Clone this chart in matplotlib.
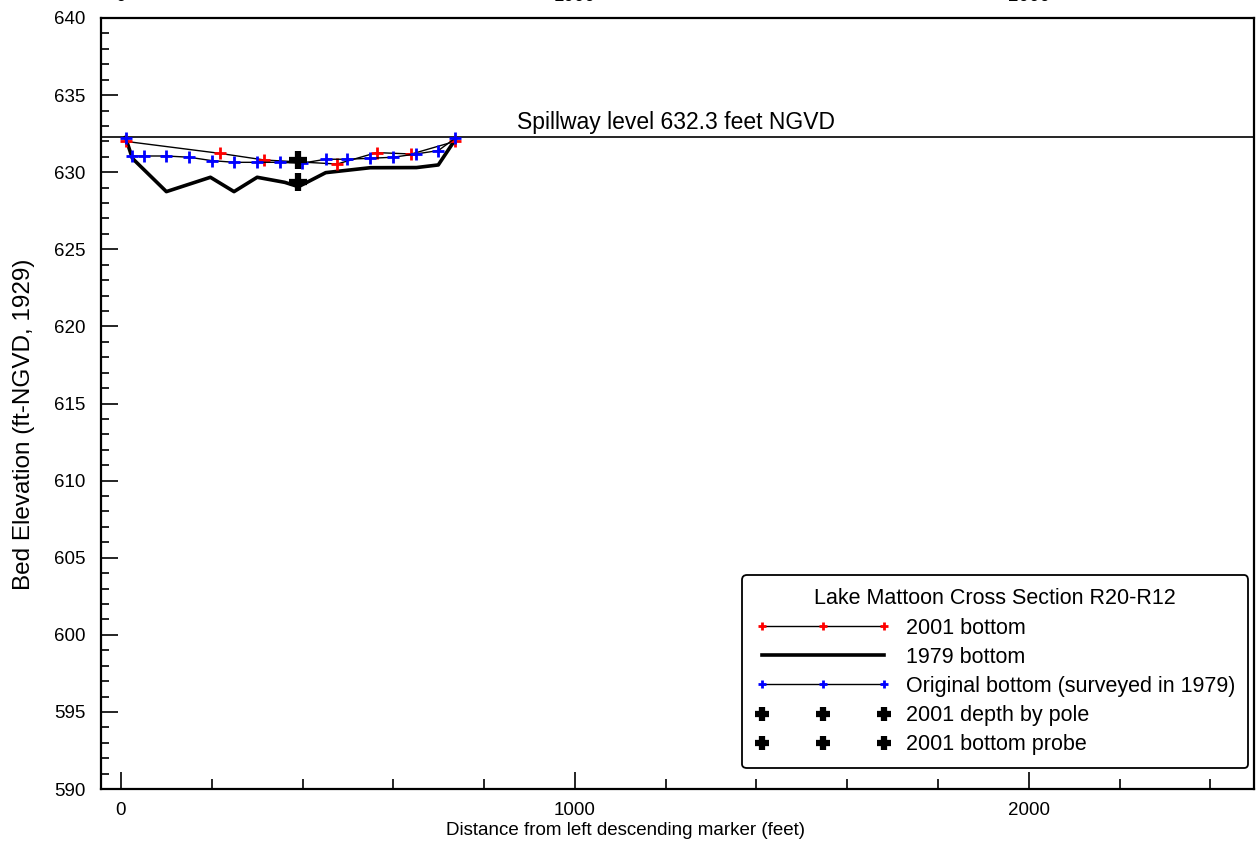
import matplotlib
matplotlib.use("Agg")
import matplotlib.pyplot as plt
from matplotlib.ticker import MultipleLocator, FixedLocator

plt.rcParams['font.family'] = ['Liberation Sans', 'DejaVu Sans']
plt.rcParams['font.size'] = 13

# cross section R20-R12, distance in feet, elevation in ft NGVD
x_2001 = [10, 218, 316, 476, 563, 640, 736]
z_2001 = [632.0, 631.22, 630.79, 630.53, 631.27, 631.18, 632.0]

x_1979 = [10, 25, 100, 197, 249, 300, 361, 391, 451, 549, 651, 699, 736]
z_1979 = [632.26, 630.9, 628.74, 629.67, 628.74, 629.67, 629.34, 629.06,
          629.97, 630.29, 630.3, 630.47, 632.1]

x_orig = [10, 25, 50, 100, 150, 200, 250, 300, 350, 398, 451, 498, 548,
          600, 649, 699, 736]
z_orig = [632.2, 631.05, 631.05, 631.05, 630.97, 630.75, 630.64, 630.64,
          630.64, 630.58, 630.84, 630.84, 630.9, 630.97, 631.18, 631.4, 632.2]

x_pole = [390]
z_pole = [630.79]
x_probe = [390]
z_probe = [629.34]

spillway = 632.3

fig = plt.figure(figsize=(12.58, 8.52), dpi=100)
ax = fig.add_axes([0.0803, 0.0739, 0.9165, 0.905])

ax.axhline(spillway, color='black', lw=1.2, zorder=1)
ax.text(872, spillway + 0.15, 'Spillway level 632.3 feet NGVD', fontsize=16.5,
        va='bottom', ha='left')

ax.plot(x_2001, z_2001, color='black', lw=1.0, marker='+', ms=8, mew=2,
        mec='red', label='2001 bottom', zorder=3)
ax.plot(x_1979, z_1979, color='black', lw=2.6, label='1979 bottom', zorder=2)
ax.plot(x_orig, z_orig, color='black', lw=1.0, marker='+', ms=8, mew=2,
        mec='blue', label='Original bottom (surveyed in 1979)', zorder=3)
ax.plot(x_pole, z_pole, ls='none', marker='+', ms=13, mew=4.5, mec='black',
        label='2001 depth by pole', zorder=4)
ax.plot(x_probe, z_probe, ls='none', marker='+', ms=13, mew=4.5, mec='black',
        label='2001 bottom probe', zorder=4)

ax.set_xlim(-44, 2496)
ax.set_ylim(590, 640)
ax.xaxis.set_major_locator(FixedLocator([0, 1000, 2000]))
ax.xaxis.set_minor_locator(MultipleLocator(200))
ax.yaxis.set_major_locator(MultipleLocator(5))
ax.yaxis.set_minor_locator(MultipleLocator(1))

ax.tick_params(which='both', direction='in', width=1.2, labelsize=13.5)
ax.tick_params(axis='x', which='major', length=12, pad=9,
               top=False, labeltop=True)
ax.tick_params(axis='x', which='minor', length=7, top=False)
ax.tick_params(axis='y', which='major', length=12, pad=11)
ax.tick_params(axis='y', which='minor', length=6)
for lab in ax.get_xticklabels():
    lab.set_clip_on(False)

for sp in ax.spines.values():
    sp.set_linewidth(1.6)

ax.set_xlabel('Distance from left descending marker (feet)', fontsize=13.5)
ax.xaxis.set_label_coords(0.4545, -0.043)
ax.set_ylabel('Bed Elevation (ft-NGVD, 1929)', fontsize=17.5)
ax.yaxis.set_label_coords(-0.057, 0.473)

leg = ax.legend(loc='lower right', bbox_to_anchor=(0.995, 0.027),
                title='Lake Mattoon Cross Section R20-R12', title_fontsize=15.5,
                fontsize=15.5, numpoints=3, handlelength=6.3, fancybox=True,
                framealpha=1, edgecolor='black', borderpad=0.6,
                labelspacing=0.38, handletextpad=0.7, borderaxespad=0)
leg.get_frame().set_linewidth(1.3)
leg.legend_handles[0].set_markersize(6)
leg.legend_handles[2].set_markersize(6)
leg.legend_handles[3].set_markersize(10)
leg.legend_handles[4].set_markersize(10)

fig.savefig('out.png', dpi=100)
